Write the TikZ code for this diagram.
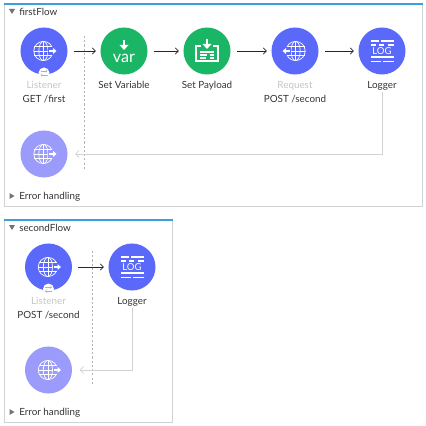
\documentclass[tikz,border=0pt]{standalone}
\usepackage{fontspec}
\setmainfont{Lato}
\usetikzlibrary{arrows.meta}
\definecolor{flowblue}{HTML}{5B69FA}
\definecolor{errblue}{HTML}{9A9BFB}
\definecolor{flowgreen}{HTML}{1BB665}
\definecolor{topblue}{HTML}{3C9FE0}
\definecolor{framegray}{HTML}{D2D2D2}
\definecolor{fainttext}{HTML}{C4C4C4}

% icons, drawn on top of a named circle
\newcommand{\globeicon}[3]{
    \begin{scope}[shift={(#1)}, white, line width=0.5pt]
        \draw (#2*-0.6,0) circle (9.6);
        \draw (#2*-0.6,0) ellipse (4.6 and 9.6);
        \draw (#2*-0.6,-9.6) -- (#2*-0.6,9.6);
        \draw (#2*-9.6,-4.5) -- (#2*8,-4.5);
        \draw (#2*-10.2,0) -- (#2*9,0);
        \draw (#2*-9.6,4.5) -- (#2*8,4.5);
        \fill[#3] (#2*4,-4) rectangle (#2*13,4);
        \draw[line width=1pt] (#2*5,0) -- (#2*10.5,0);
        \fill (#2*12.5,0) -- (#2*9,-3) -- (#2*9,3) -- cycle;
    \end{scope}
}
\newcommand{\loggericon}[1]{
    \begin{scope}[shift={(#1)}, white]
        \fill (-11.5,-11.2) rectangle (-3,-9.4);
        \fill (-1,-11.2) rectangle (11.5,-9.4);
        \fill (-11.5,-7.2) rectangle (-6,-5.4);
        \fill (-3,-7.2) rectangle (2,-5.4);
        \fill (6,-7.2) rectangle (11.5,-5.4);
        \node[inner sep=0pt, font=\fontsize{6.8}{8}\selectfont] (#1log) at (0,0.3) {LOG};
        \fill (-11.5,5.4) rectangle (11.5,7.2);
        \fill (-11.5,9.6) rectangle (-1,11.4);
        \fill (1,9.6) rectangle (11.5,11.4);
    \end{scope}
}
\newcommand{\sidebadge}[1]{
    \begin{scope}[shift={(#1)}]
        \fill[white] (0,22) circle (5.5);
        \draw[gray!60, line width=0.3pt, -{Straight Barb[length=1pt,width=2pt]}] (-3.5,20) -- (3.5,20);
        \draw[gray!60, line width=0.3pt, -{Straight Barb[length=1pt,width=2pt]}] (3.5,24) -- (-3.5,24);
    \end{scope}
}

\begin{document}
\begin{tikzpicture}[
    x=0.025cm, y=-0.025cm,
    flow/.style={circle, minimum size=1.175cm, inner sep=0pt, fill=flowblue},
    errflow/.style={flow, fill=errblue},
    green/.style={flow, fill=flowgreen},
    label/.style={font=\fontsize{7}{9}\selectfont, inner sep=0pt, text height=5.4pt, text depth=1.6pt, text=black!80},
    faint/.style={label, text=fainttext},
    title/.style={label, anchor=west},
    rel/.style={-{Straight Barb[length=2.2pt,width=4.4pt]}, line width=0.45pt, black!85, shorten <=1.5mm, shorten >=1.1mm},
    back/.style={-{Straight Barb[length=2.4pt,width=5pt]}, line width=0.5pt, framegray, shorten >=1.85mm},
    frame/.style={draw=framegray, line width=0.5pt},
    divider/.style={draw=black!30, line width=0.3pt, dash pattern=on 1.5pt off 1.5pt},
    triopen/.style={fill=black!55}
]
    \useasboundingbox (0,0) rectangle (426,426);

    % Frames
    \draw[frame] (4.5,4) rectangle (422.5,206);
    \draw[topblue, line width=0.9pt] (4,4) -- (423,4);
    \draw[frame] (4.5,220) rectangle (172,422);
    \draw[topblue, line width=0.9pt] (4,220) -- (172.5,220);

    % Nodes, first flow
    \node[flow] (listen) at (44,51) {};
    \node[green] (setvar) at (124,51) {};
    \node[green] (setpay) at (207,51) {};
    \node[flow] (request) at (295,51) {};
    \node[flow] (logger) at (382,51) {};
    \node[errflow] (source) at (44,154) {};

    \node[faint] (listentxt) at (44,86.3) {Listener};
    \node[label] (gettxt) at (44,99.8) {GET /first};
    \node[label] (vartxt) at (124,86.3) {Set Variable};
    \node[label] (paytxt) at (207,86.3) {Set Payload};
    \node[faint] (reqtxt) at (295,86.3) {Request};
    \node[label] (posttxt) at (295,99.8) {POST /second};
    \node[label] (logtxt) at (382,86.3) {Logger};
    \node[title] (firsttxt) at (19,13) {firstFlow};
    \node[title] (errtxt) at (19,197) {Error handling};

    % Nodes, second flow
    \node[flow] (listentwo) at (48.5,267) {};
    \node[flow] (loggertwo) at (132,267) {};
    \node[errflow] (sourcetwo) at (48.5,370) {};

    \node[faint] (listentwotxt) at (48.5,302.3) {Listener};
    \node[label] (posttwotxt) at (48.5,316.3) {POST /second};
    \node[label] (logtwotxt) at (132,302.3) {Logger};
    \node[title] (secondtxt) at (19,229) {secondFlow};
    \node[title] (errtwotxt) at (19,413) {Error handling};

    % Dividers and triangles
    \draw[divider] (84.5,36) -- (84.5,171);
    \draw[divider] (92.5,251) -- (92.5,386);
    \fill[triopen] (9,9) -- (15,9) -- (12,14) -- cycle;
    \fill[triopen] (9,225) -- (15,225) -- (12,230) -- cycle;
    \fill[triopen] (9.5,193) -- (14.5,196) -- (9.5,199) -- cycle;
    \fill[triopen] (9.5,409) -- (14.5,412) -- (9.5,415) -- cycle;

    % Relations
    \draw[rel] (listen) -- (setvar);
    \draw[rel] (setvar) -- (setpay);
    \draw[rel] (setpay) -- (request);
    \draw[rel] (request) -- (logger);
    \draw[back] (logtxt.south) |- (source);
    \draw[rel] (listentwo) -- (loggertwo);
    \draw[back] (logtwotxt.south) |- (sourcetwo);

    % Icons
    \globeicon{listen}{1}{flowblue}
    \globeicon{source}{1}{errblue}
    \globeicon{request}{-1}{flowblue}
    \globeicon{listentwo}{1}{flowblue}
    \globeicon{sourcetwo}{1}{errblue}
    \loggericon{logger}
    \loggericon{loggertwo}
    \sidebadge{listen}
    \sidebadge{listentwo}

    \begin{scope}[shift={(setvar)}, white]
        \draw[line width=1.1pt] (0,-11) -- (0,-3);
        \fill (0,-1) -- (-4.5,-6) -- (4.5,-6) -- cycle;
        \node[inner sep=0pt, font=\fontsize{11.5}{14}\selectfont] (vartext) at (0,7) {var};
    \end{scope}
    \begin{scope}[shift={(setpay)}, white]
        \draw[line width=0.8pt] (-6,-5) -- (-11,-5) -- (-11,10) -- (11,10) -- (11,-5) -- (6,-5);
        \draw[line width=1.1pt] (0,-12) -- (0,-6);
        \fill (0,-2) -- (-4.5,-7) -- (4.5,-7) -- cycle;
        \draw[line width=0.8pt] (-7,1) -- (7,1);
        \draw[line width=0.8pt] (-7,4) -- (0,4) (3,4) -- (7,4);
        \draw[line width=0.8pt] (-7,7) -- (-1,7) (3,7) -- (7,7);
    \end{scope}
\end{tikzpicture}
\end{document}
